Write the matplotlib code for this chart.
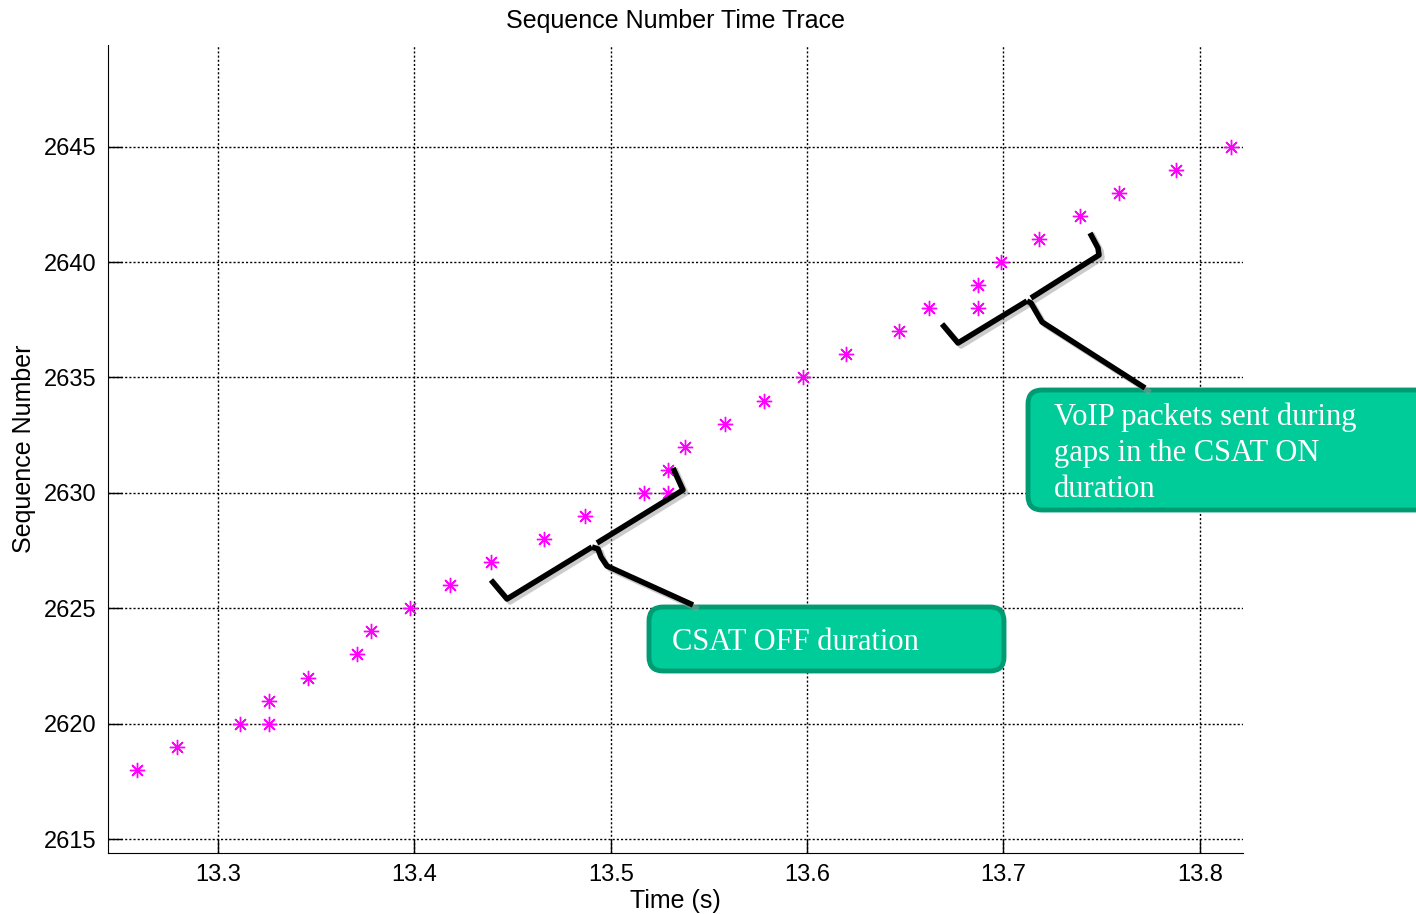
import matplotlib
matplotlib.use("Agg")
import matplotlib.pyplot as plt
from matplotlib.patches import FancyBboxPatch
from matplotlib.transforms import Affine2D, IdentityTransform
import numpy as np

plt.rcParams['font.family'] = ['Liberation Sans', 'DejaVu Sans']

# packet send times (s) and sequence numbers
time_s = [13.259, 13.279, 13.311, 13.326, 13.326, 13.346, 13.371, 13.378,
          13.398, 13.418, 13.439, 13.466, 13.487, 13.517, 13.529, 13.529,
          13.538, 13.558, 13.578, 13.598, 13.620, 13.647, 13.662, 13.687,
          13.687, 13.699, 13.718, 13.739, 13.759, 13.788, 13.816]
seq_no = [2618, 2619, 2620, 2620, 2621, 2622, 2623, 2624,
          2625, 2626, 2627, 2628, 2629, 2630, 2630, 2631,
          2632, 2633, 2634, 2635, 2636, 2637, 2638, 2638,
          2639, 2640, 2641, 2642, 2643, 2644, 2645]

x_ticks = [13.3, 13.4, 13.5, 13.6, 13.7, 13.8]
y_ticks = [2615, 2620, 2625, 2630, 2635, 2640, 2645]

W, H = 1416, 914
fig = plt.figure(figsize=(W / 100, H / 100), dpi=100)
ax = fig.add_axes([108 / W, 1 - 853 / H, (1243 - 108) / W, (853 - 45) / H])

ax.plot(time_s, seq_no, linestyle='none', marker=(8, 2, 0), color='#ff00ff',
        markersize=11, markeredgewidth=1.0)

ax.set_xlim(13.244, 13.822)
ax.set_ylim(2614.4, 2649.4)
ax.set_xticks(x_ticks)
ax.set_yticks(y_ticks)
ax.tick_params(direction='in', length=10, width=1, labelsize=17, pad=8)
for s in ['top', 'right']:
    ax.spines[s].set_visible(False)
ax.grid(True, color='black', linestyle=(0, (1.5, 1.5)), linewidth=1)

ax.set_title("Sequence Number Time Trace", fontsize=18, pad=12)
ax.set_xlabel("Time (s)", fontsize=18, labelpad=2)
ax.set_ylabel("Sequence Number", fontsize=18, labelpad=6)

# pixel coordinates (origin top-left) for the callouts
px = Affine2D().scale(1 / W, -1 / H).translate(0, 1) + fig.transFigure

def brace(lower, upper, pointer):
    for pts in (lower, upper, pointer):
        xs, ys = zip(*pts)
        fig.add_artist(plt.Line2D(np.array(xs) + 3, np.array(ys) + 3,
                                  transform=px, color='#999999', alpha=0.5,
                                  lw=4, solid_joinstyle='round'))
        fig.add_artist(plt.Line2D(xs, ys, transform=px, color='black', lw=4,
                                  solid_joinstyle='round',
                                  solid_capstyle='butt'))

brace([(491, 580), (507, 599), (592, 547)],
      [(597, 543), (683, 490), (673, 468)],
      [(592, 547), (598, 549), (601, 557), (607, 566), (693, 605)])
brace([(942, 324), (958, 343), (1027, 301)],
      [(1031, 298), (1099, 255), (1098, 248), (1090, 233)],
      [(1027, 301), (1031, 303), (1035, 310), (1042, 322), (1145, 388)])

def callout(x0, y0, x1, y1, lines, tx, ty):
    # box given in top-left pixel coords, drawn in display pixels
    box = FancyBboxPatch((x0, H - y1), x1 - x0, y1 - y0,
                         boxstyle="round,pad=0,rounding_size=14",
                         transform=IdentityTransform(), facecolor='#00cc99',
                         edgecolor='#009b72', linewidth=3.5, clip_on=False)
    fig.add_artist(box)
    fig.text(tx / W, 1 - ty / H, lines, color='white', fontsize=22,
             family=['Liberation Serif', 'DejaVu Serif'], va='top', ha='left',
             linespacing=1.33)

callout(649, 607, 1004, 671, "CSAT OFF duration", 672, 628)
callout(1028, 390, 1440, 510,
        "VoIP packets sent during\ngaps in the CSAT ON\nduration", 1054, 402)

fig.savefig("out.png", dpi=100)
